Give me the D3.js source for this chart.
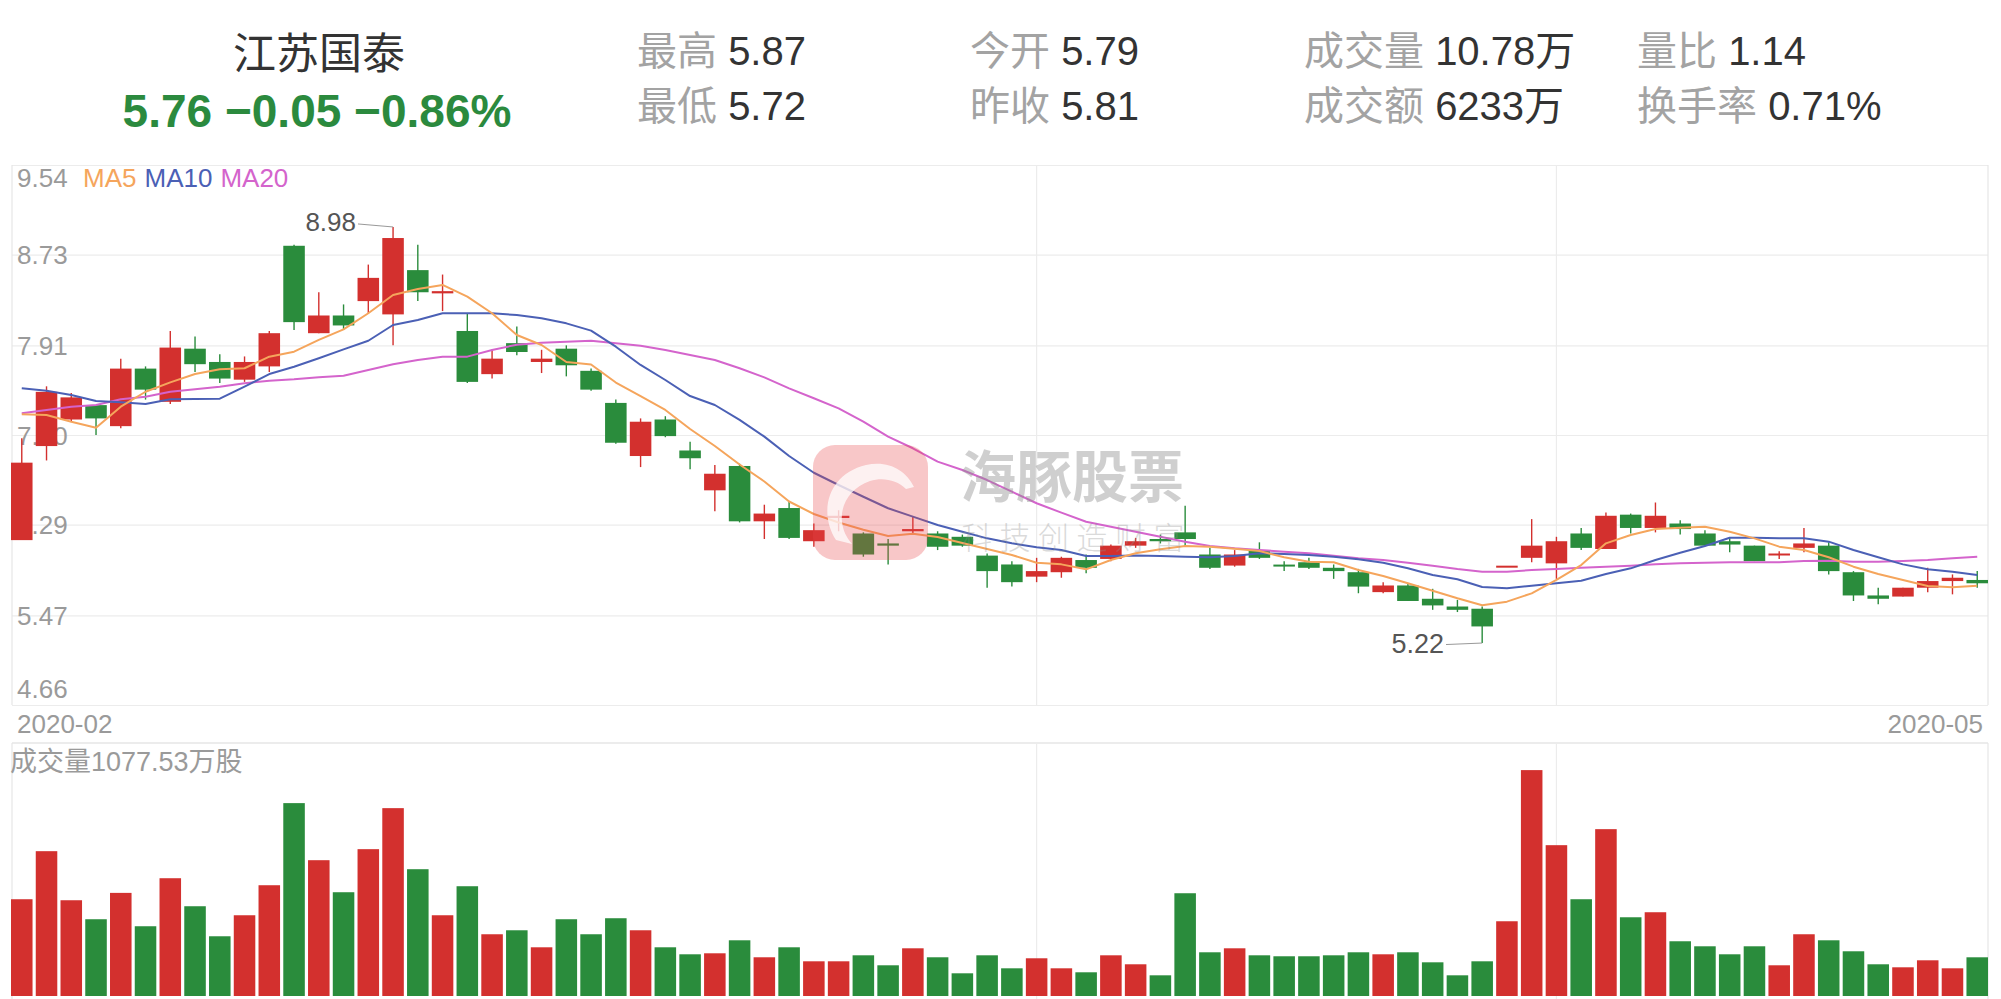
<!DOCTYPE html>
<html><head><meta charset="utf-8">
<script src="https://cdn.jsdelivr.net/npm/d3@7"></script>
<style>
html,body{margin:0;padding:0;background:#fff;}
svg{display:block;}
text{font-family:"Liberation Sans","Noto Sans CJK SC",sans-serif;}
</style></head><body>
<svg id="c" width="2001" height="999"></svg>
<script>
// ---------- data ----------
const stockName = "江苏国泰";
const quoteText = "5.76 \u22120.05 \u22120.86%";
const statLabels = [["最高","最低"],["今开","昨收"],["成交量","成交额"],["量比","换手率"]];
const statValues = [["5.87","5.72"],["5.79","5.81"],["10.78万","6233万"],["1.14","0.71%"]];
const yTicks = [9.54, 8.73, 7.91, 7.10, 6.29, 5.47, 4.66];
const yTickLabels = ["9.54","8.73","7.91","7.10","6.29","5.47","4.66"];
const xLabels = ["2020-02","2020-05"];
const maNames = ["MA5","MA10","MA20"];
const volumeLabel = "成交量1077.53万股";
const monthSplits = [41, 62];

const open  = [6.15,7.00,7.24,7.37,7.18,7.70,7.40,7.88,7.76,7.60,7.72,8.81,8.02,8.18,8.31,8.19,8.59,8.38,8.04,7.65,
               7.93,7.76,7.88,7.68,7.39,6.91,7.24,6.96,6.60,6.82,6.32,6.44,6.14,6.35,6.21,6.12,6.23,6.21,6.18,6.01,
               5.93,5.82,5.86,5.97,5.98,6.10,6.16,6.22,6.02,5.92,6.06,5.92,5.95,5.90,5.86,5.68,5.74,5.62,5.55,5.53,
               5.91,5.99,5.94,6.21,6.07,6.38,6.26,6.30,6.21,6.14,6.10,6.01,6.08,6.10,5.86,5.65,5.64,5.72,5.78,5.79];
const close = [6.85,7.49,7.44,7.25,7.70,7.51,7.89,7.74,7.61,7.76,8.02,8.12,8.18,8.09,8.52,8.88,8.39,8.40,7.58,7.79,
               7.85,7.79,7.73,7.51,7.03,7.22,7.09,6.89,6.75,6.32,6.39,6.17,6.24,6.37,6.02,6.10,6.25,6.09,6.10,5.87,
               5.77,5.87,5.99,5.90,6.10,6.14,6.14,6.16,5.90,6.02,5.99,5.91,5.90,5.87,5.73,5.74,5.60,5.56,5.52,5.37,
               5.91,6.10,6.14,6.08,6.37,6.26,6.37,6.25,6.10,6.11,5.96,6.02,6.12,5.87,5.65,5.62,5.72,5.78,5.81,5.76];
const high  = [7.07,7.54,7.48,7.37,7.79,7.72,8.04,7.99,7.83,7.81,8.04,8.82,8.39,8.28,8.64,8.98,8.82,8.55,8.20,7.87,
               8.08,7.87,7.91,7.70,7.42,7.25,7.27,7.04,6.83,6.84,6.47,6.50,6.30,6.42,6.22,6.16,6.36,6.23,6.20,6.03,
               5.96,5.99,6.00,6.02,6.11,6.17,6.20,6.46,6.08,6.06,6.13,5.96,5.99,5.93,5.89,5.77,5.76,5.71,5.61,5.55,
               5.91,6.34,6.18,6.26,6.40,6.39,6.49,6.33,6.24,6.17,6.10,6.05,6.26,6.13,5.87,5.72,5.72,5.90,5.84,5.87];
const low   = [6.15,6.87,7.22,7.10,7.16,7.42,7.38,7.67,7.57,7.58,7.67,8.05,8.02,8.05,8.20,7.91,8.31,8.22,7.57,7.61,
               7.82,7.66,7.63,7.50,7.02,6.81,7.08,6.79,6.41,6.31,6.16,6.16,6.09,6.23,6.00,5.93,6.21,6.06,6.09,5.72,
               5.73,5.77,5.81,5.85,5.96,6.08,6.12,6.09,5.89,5.91,5.98,5.87,5.89,5.80,5.67,5.67,5.60,5.52,5.50,5.22,
               5.91,5.95,5.80,6.06,6.07,6.21,6.22,6.20,6.10,6.04,5.96,5.98,6.04,5.84,5.60,5.57,5.64,5.68,5.66,5.72];
const volume = [2694,4032,2666,2137,2871,1942,3279,2499,1663,2248,3084,5370,3781,2889,4088,5230,3530,2248,3056,1719,
                1830,1356,2137,1719,2165,1830,1356,1161,1189,1551,1078,1356,966,966,1133,855,1328,1078,632,1133,
                771,1050,771,660,1133,883,576,2861,1217,1328,1133,1106,1106,1133,1217,1161,1217,938,576,966,
                2081,6289,4199,2694,4645,2192,2332,1524,1384,1161,1384,855,1719,1551,1245,883,799,994,771,1077.53];
const ma5  = [7.287,7.281,7.220,7.166,7.356,7.491,7.576,7.651,7.694,7.703,7.808,7.853,7.959,8.055,8.200,8.365,8.419,8.456,8.350,8.200,
              8.004,7.913,7.760,7.737,7.574,7.452,7.326,7.154,7.001,6.833,6.680,6.499,6.386,6.309,6.244,6.187,6.208,6.178,6.124,6.070,
              6.016,5.946,5.931,5.886,5.970,6.031,6.067,6.097,6.091,6.073,6.052,5.995,5.955,5.950,5.880,5.826,5.760,5.693,5.624,5.561,
              5.594,5.669,5.790,5.925,6.121,6.196,6.251,6.262,6.271,6.226,6.166,6.091,6.061,5.995,5.910,5.844,5.790,5.735,5.724,5.738];
const ma10 = [7.522,7.500,7.461,7.407,7.396,7.380,7.423,7.425,7.428,7.537,7.651,7.717,7.793,7.874,7.952,8.094,8.139,8.200,8.200,8.200,
              8.184,8.155,8.109,8.043,7.898,7.733,7.597,7.452,7.371,7.236,7.085,6.910,6.759,6.648,6.542,6.438,6.362,6.287,6.226,6.166,
              6.121,6.085,6.061,6.007,6.007,6.010,6.007,6.000,5.995,6.007,6.031,6.025,6.016,6.000,5.977,5.946,5.895,5.835,5.796,5.726,
              5.715,5.738,5.760,5.783,5.844,5.895,5.970,6.036,6.097,6.172,6.172,6.166,6.166,6.136,6.061,5.995,5.931,5.886,5.865,5.835];
const ma20 = [7.296,7.326,7.356,7.371,7.423,7.446,7.491,7.513,7.537,7.567,7.591,7.603,7.621,7.636,7.687,7.739,7.778,7.808,7.808,7.868,
              7.916,7.934,7.943,7.952,7.929,7.907,7.868,7.823,7.778,7.703,7.621,7.522,7.432,7.341,7.220,7.085,6.980,6.859,6.784,6.693,
              6.588,6.483,6.398,6.316,6.271,6.226,6.181,6.136,6.097,6.076,6.061,6.045,6.031,6.009,5.986,5.970,5.946,5.919,5.889,5.865,
              5.865,5.880,5.889,5.901,5.910,5.919,5.931,5.941,5.946,5.950,5.950,5.950,5.961,5.964,5.955,5.955,5.961,5.970,5.986,6.000];

// ---------- layout / style ----------
const RED = "#d3302e", GREEN = "#2a8c3c", GRID = "#ececec", AXIS = "#9a9a9a";
const MA_COLORS = ["#f5a55c", "#4b60b5", "#d464cc"];
const L = 12, R = 1988, pTop = 165, pBot = 705, vTop = 743, vBot = 996;

const svg = d3.select("#c");
const n = open.length;
const x = d3.scaleBand().domain(d3.range(n)).range([11, R]).paddingInner(0.13).paddingOuter(0);
const y = d3.scaleLinear().domain([yTicks[yTicks.length - 1], yTicks[0]]).range([pBot, pTop]);
const yv = d3.scaleLinear().domain([0, d3.max(volume) * 1.12]).range([vBot, vTop]);
const cx = i => x(i) + x.bandwidth() / 2;
const colorOf = i => (close[i] > open[i] || (close[i] === open[i] && (i === 0 || close[i] >= close[i - 1]))) ? RED : GREEN;

// ---------- header ----------
svg.append("text").attr("x", 319).attr("y", 69).attr("text-anchor", "middle")
  .attr("font-size", 43).attr("fill", "#333").text(stockName);
svg.append("text").attr("x", 317).attr("y", 127).attr("text-anchor", "middle")
  .attr("font-size", 46).attr("font-weight", "bold").attr("fill", "#2b8a3e").text(quoteText);
const colX = [637, 970, 1304, 1637], rowY = [65, 120];
statLabels.forEach((col, c) => col.forEach((lab, r) => {
  const t = svg.append("text").attr("x", colX[c]).attr("y", rowY[r]).attr("font-size", 40);
  t.append("tspan").attr("fill", "#a3a3a3").text(lab + " ");
  t.append("tspan").attr("fill", "#333").text(statValues[c][r]);
}));

// ---------- price panel grid ----------
const gGrid = svg.append("g");
gGrid.append("g").attr("transform", `translate(${L},0)`)
  .call(d3.axisRight(y).tickValues(yTicks).tickSize(R - L).tickFormat(""))
  .call(g => g.select(".domain").remove())
  .call(g => g.selectAll("line").attr("stroke", GRID).attr("stroke-width", 1.2));
gGrid.selectAll("line.split").data(monthSplits).join("line").attr("class", "split")
  .attr("x1", d => cx(d)).attr("x2", d => cx(d)).attr("y1", pTop).attr("y2", pBot)
  .attr("stroke", GRID).attr("stroke-width", 1.2);
[L, R].forEach(xx => gGrid.append("line").attr("x1", xx).attr("x2", xx).attr("y1", pTop).attr("y2", pBot)
  .attr("stroke", "#e6e6e6").attr("stroke-width", 1.2));

// y labels (under candles)
svg.append("g").selectAll("text").data(yTicks).join("text")
  .attr("x", 17)
  .attr("y", (d, i) => i === 0 ? y(d) + 22 : (i === yTicks.length - 1 ? y(d) - 7 : y(d) + 9.5))
  .attr("font-size", 26).attr("fill", AXIS).text((d, i) => yTickLabels[i]);

// legend
const lg = svg.append("text").attr("x", 83).attr("y", 187).attr("font-size", 26);
maNames.forEach((m, i) => lg.append("tspan").attr("fill", MA_COLORS[i]).attr("dx", i ? 8 : 0).text(m));

// x labels
svg.append("text").attr("x", 17).attr("y", 733).attr("font-size", 26).attr("fill", AXIS).text(xLabels[0]);
svg.append("text").attr("x", 1983).attr("y", 733).attr("text-anchor", "end").attr("font-size", 26).attr("fill", AXIS).text(xLabels[1]);

// ---------- candles ----------
const gc = svg.append("g");
gc.selectAll("line.wick").data(d3.range(n)).join("line").attr("class", "wick")
  .attr("x1", cx).attr("x2", cx).attr("y1", i => y(high[i])).attr("y2", i => y(low[i]))
  .attr("stroke", colorOf).attr("stroke-width", 1.4);
gc.selectAll("rect").data(d3.range(n)).join("rect")
  .attr("x", i => x(i)).attr("width", x.bandwidth())
  .attr("y", i => Math.min(y(open[i]), y(close[i])) - (Math.abs(y(open[i]) - y(close[i])) < 2 ? 1 : 0))
  .attr("height", i => Math.max(2, Math.abs(y(open[i]) - y(close[i]))))
  .attr("fill", colorOf);

// moving averages
const line = d3.line().x((d, i) => cx(i)).y(d => y(d));
[ma20, ma10, ma5].forEach((arr, k) => {
  svg.append("path").attr("d", line(arr)).attr("fill", "none")
    .attr("stroke", MA_COLORS[2 - k]).attr("stroke-width", 2).attr("stroke-linejoin", "round");
});

// max / min annotations
const iMax = d3.maxIndex(high), iMin = d3.minIndex(low);
svg.append("line").attr("x1", 358).attr("y1", y(high[iMax]) - 3).attr("x2", cx(iMax)).attr("y2", y(high[iMax]))
  .attr("stroke", "#999").attr("stroke-width", 1);
svg.append("text").attr("x", 356).attr("y", y(high[iMax]) + 4.5).attr("text-anchor", "end")
  .attr("font-size", 26).attr("fill", "#555").text(high[iMax].toFixed(2));
svg.append("line").attr("x1", 1446).attr("y1", y(low[iMin]) + 1.5).attr("x2", cx(iMin)).attr("y2", y(low[iMin]))
  .attr("stroke", "#999").attr("stroke-width", 1);
svg.append("text").attr("x", 1444).attr("y", y(low[iMin]) + 10).attr("text-anchor", "end")
  .attr("font-size", 27).attr("fill", "#555").text(low[iMin].toFixed(2));

// ---------- volume panel ----------
const gv = svg.append("g");
gv.append("line").attr("x1", L).attr("x2", R).attr("y1", vTop).attr("y2", vTop).attr("stroke", "#e6e6e6").attr("stroke-width", 1.5);
[L, R].forEach(xx => gv.append("line").attr("x1", xx).attr("x2", xx).attr("y1", vTop).attr("y2", 999)
  .attr("stroke", "#e6e6e6").attr("stroke-width", 1.2));
gv.selectAll("line.split").data(monthSplits).join("line").attr("class", "split")
  .attr("x1", d => cx(d)).attr("x2", d => cx(d)).attr("y1", vTop).attr("y2", 999)
  .attr("stroke", GRID).attr("stroke-width", 1.2);
gv.selectAll("rect").data(volume).join("rect")
  .attr("x", (d, i) => x(i)).attr("width", x.bandwidth())
  .attr("y", d => yv(d)).attr("height", d => vBot - yv(d))
  .attr("fill", (d, i) => colorOf(i));
svg.append("text").attr("x", 10).attr("y", 771).attr("font-size", 27).attr("fill", AXIS).text(volumeLabel);

// ---------- watermark ----------
const wm = svg.append("g");
wm.append("rect").attr("x", 813).attr("y", 445).attr("width", 115).attr("height", 115).attr("rx", 22)
  .attr("fill", "#e8464a").attr("opacity", 0.3);
wm.append("path")
  .attr("d", "M836,540 C818,512 828,474 866,465 C888,460 906,470 914,487 L906,489 C897,480 883,477 870,481 C850,488 840,505 842,522 C843,530 846,537 852,544 Z")
  .attr("fill", "#fff").attr("opacity", 0.75);
wm.append("text").attr("x", 960).attr("y", 497).attr("font-size", 56).attr("font-weight", "bold")
  .attr("fill", "#8f8f8f").attr("opacity", 0.42).attr("font-family", "Noto Sans CJK SC").text("海豚股票");
wm.append("text").attr("x", 961).attr("y", 549).attr("font-size", 31).attr("letter-spacing", 7.5)
  .attr("fill", "#8f8f8f").attr("opacity", 0.32).attr("font-family", "Noto Sans CJK SC").attr("font-weight", 300).text("科技创造财富");
</script>
</body></html>
